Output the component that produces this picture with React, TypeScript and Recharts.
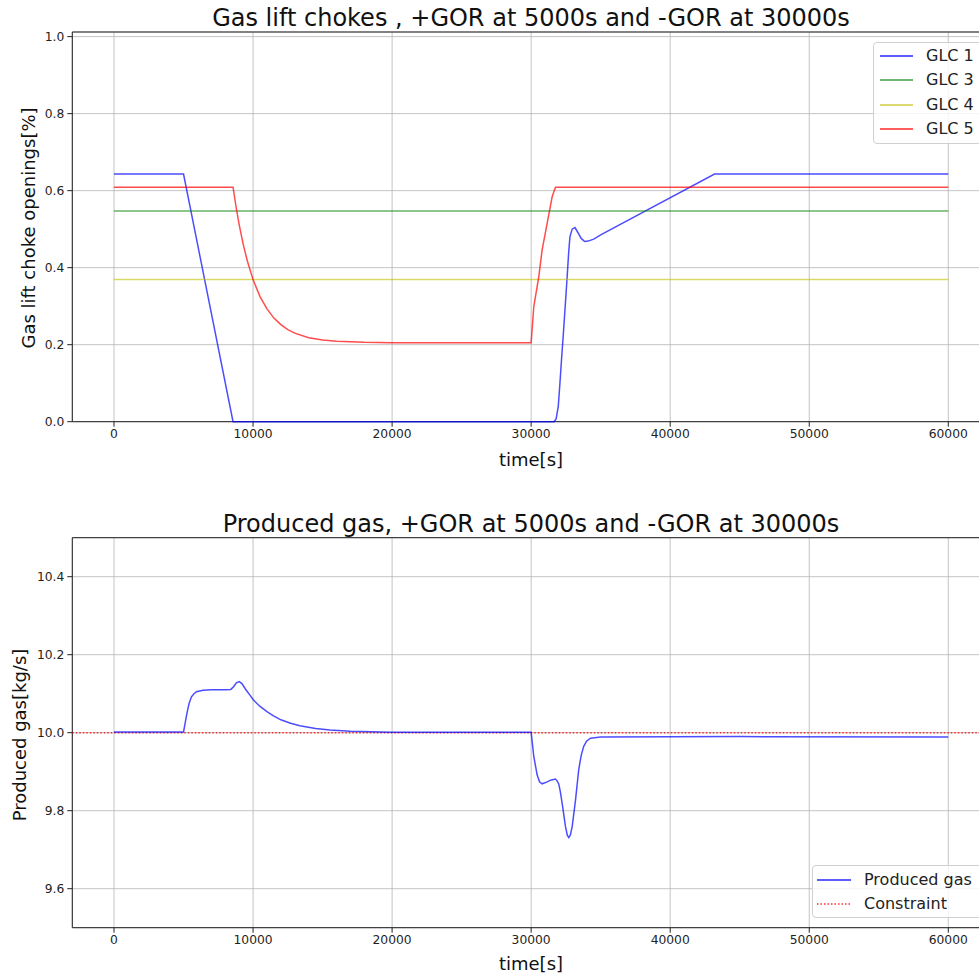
import React from 'react';
import { LineChart, Line, XAxis, YAxis, CartesianGrid, ReferenceLine, ReferenceArea, Legend } from 'recharts';

const FONT = '"DejaVu Sans", Verdana, sans-serif';

// shared x ticks (time in seconds)
const xTicks = [0, 10000, 20000, 30000, 40000, 50000, 60000];
const topYTicks = [0, 0.2, 0.4, 0.6, 0.8, 1.0];
const bottomYTicks = [9.6, 9.8, 10.0, 10.2, 10.4];

const topTitle = 'Gas lift chokes , +GOR at 5000s and -GOR at 30000s';
const bottomTitle = 'Produced gas, +GOR at 5000s and -GOR at 30000s';
const topSeriesNames = ['GLC 1', 'GLC 3', 'GLC 4', 'GLC 5'];
const bottomSeriesNames = ['Produced gas', 'Constraint'];

// GLC 1
const glc1Time = [0, 5000, 8560, 31650, 31800, 31950, 32070, 32200, 32300, 32450, 32590, 32700, 32790, 32950, 33150, 33350, 33600, 33850, 34100, 34500, 35000, 43190, 60000];
const glc1Value = [0.643, 0.643, 0, 0, 0.008, 0.04, 0.1, 0.17, 0.22, 0.3, 0.377, 0.44, 0.48, 0.5, 0.504, 0.492, 0.476, 0.468, 0.469, 0.474, 0.485, 0.643, 0.643];

// GLC 3
const glc3Time = [0, 60000];
const glc3Value = [0.547, 0.547];

// GLC 4
const glc4Time = [0, 60000];
const glc4Value = [0.369, 0.369];

// GLC 5
const glc5Time = [0, 8560, 8800, 9000, 9300, 9600, 10000, 10500, 11000, 11500, 12000, 12500, 13000, 14000, 15000, 16000, 18000, 20000, 30000, 30190, 30550, 30790, 31150, 31510, 31750, 60000];
const glc5Value = [0.609, 0.609, 0.553, 0.512, 0.459, 0.416, 0.369, 0.325, 0.293, 0.269, 0.252, 0.239, 0.23, 0.218, 0.212, 0.209, 0.206, 0.205, 0.205, 0.299, 0.377, 0.446, 0.515, 0.584, 0.609, 0.609];

// Produced gas
const gasTime = [0, 5000, 5250, 5400, 5570, 5750, 5930, 6400, 7000, 8000, 8400, 8600, 8800, 9000, 9200, 9450, 9760, 10000, 10480, 11000, 11440, 12000, 12640, 13360, 14500, 15520, 17000, 20000, 30000, 30190, 30430, 30600, 30790, 31150, 31450, 31750, 31880, 31990, 32100, 32230, 32470, 32600, 32705, 32820, 32950, 33190, 33420, 33600, 33780, 34000, 34270, 34990, 45000, 60000];
const gasValue = [10.002, 10.002, 10.051, 10.075, 10.092, 10.1, 10.105, 10.109, 10.11, 10.11, 10.111, 10.118, 10.128, 10.131, 10.126, 10.112, 10.097, 10.085, 10.068, 10.054, 10.044, 10.033, 10.025, 10.018, 10.011, 10.007, 10.004, 10.001, 10.001, 9.939, 9.892, 9.874, 9.869, 9.874, 9.879, 9.881, 9.876, 9.868, 9.848, 9.819, 9.759, 9.737, 9.731, 9.738, 9.759, 9.827, 9.905, 9.942, 9.965, 9.979, 9.986, 9.989, 9.99, 9.989];

const constraintValue = 10.0;

const toPoints = (ts: number[], vs: number[]) => ts.map((t, i) => ({ t, v: vs[i] }));

const glc1Data = toPoints(glc1Time, glc1Value);
const glc3Data = toPoints(glc3Time, glc3Value);
const glc4Data = toPoints(glc4Time, glc4Value);
const glc5Data = toPoints(glc5Time, glc5Value);
const gasData = toPoints(gasTime, gasValue);

const topColors = [
  { stroke: '#0000ff', opacity: 0.7 },
  { stroke: '#008000', opacity: 0.6 },
  { stroke: '#bfbf00', opacity: 0.6 },
  { stroke: '#ff0000', opacity: 0.7 },
];

const tickStyle = { fill: '#222', fontSize: 12.3, fontFamily: FONT };
const AXIS = '#222';

const legendBox: React.CSSProperties = {
  border: '1px solid #d0d0d0',
  borderRadius: 4,
  background: 'rgba(255,255,255,0.8)',
  fontFamily: FONT,
  fontSize: 16,
  color: '#222',
  boxSizing: 'border-box',
};

const TopLegend = () => (
  <div style={{ ...legendBox, width: 120, height: 102, paddingTop: 1 }}>
    {topSeriesNames.map((n, i) => (
      <div key={n} style={{ height: 24.4, display: 'flex', alignItems: 'center' }}>
        <svg width={46} height={6} style={{ marginLeft: 6, flex: 'none' }}>
          <line x1={0} x2={33} y1={3} y2={3} stroke={topColors[i].stroke} strokeOpacity={topColors[i].opacity + 0.15} strokeWidth={1.5} />
        </svg>
        <span style={{ lineHeight: '16px', whiteSpace: 'nowrap' }}>{n}</span>
      </div>
    ))}
  </div>
);

const BottomLegend = () => (
  <div style={{ ...legendBox, width: 180, height: 53, paddingTop: 2 }}>
    {bottomSeriesNames.map((n, i) => (
      <div key={n} style={{ height: 24, display: 'flex', alignItems: 'center' }}>
        <svg width={47} height={6} style={{ marginLeft: 4, flex: 'none' }}>
          {i === 0 ? (
            <line x1={0} x2={34} y1={3} y2={3} stroke="#0000ff" strokeOpacity={0.85} strokeWidth={1.5} />
          ) : (
            <line x1={0} x2={34} y1={3} y2={3} stroke="#ff0000" strokeOpacity={0.8} strokeWidth={1.5} strokeDasharray="1.5 2" />
          )}
        </svg>
        <span style={{ lineHeight: '16px', whiteSpace: 'nowrap' }}>{n}</span>
      </div>
    ))}
  </div>
);

const titleStyle = (top: number): React.CSSProperties => ({
  position: 'absolute',
  left: 0,
  width: 1062,
  top,
  textAlign: 'center',
  fontSize: 24,
  lineHeight: '24px',
  fontFamily: FONT,
  color: '#111',
  whiteSpace: 'nowrap',
});

export default function App() {
  return (
    <div style={{ position: 'absolute', left: 0, top: 0, width: 979, height: 974, overflow: 'hidden', background: '#fff', fontFamily: FONT }}>
      <div style={{ position: 'absolute', left: 0, top: 0 }}>
        <LineChart width={1000} height={487} margin={{ top: 32, right: 10, bottom: 25.3, left: 12.3 }}>
          <CartesianGrid stroke="#b0b0b0" strokeOpacity={0.75} strokeWidth={1} />
          <ReferenceArea x1={-3000} x2={63000} y1={0} y2={1.012} fill="none" stroke={AXIS} strokeWidth={1} ifOverflow="visible" />
          <XAxis
            dataKey="t"
            type="number"
            domain={[-3000, 63000]}
            ticks={xTicks}
            allowDataOverflow
            height={40}
            axisLine={false}
            tickSize={5}
            tickMargin={3}
            tick={tickStyle}
            tickLine={{ stroke: AXIS }}
            tickFormatter={(v: number) => String(v)}
            label={{
              content: () => (
                <text x={531} y={465.5} textAnchor="middle" fontSize={18} fontFamily={FONT} fill="#111">time[s]</text>
              ),
            }}
          />
          <YAxis
            type="number"
            domain={[0, 1.012]}
            ticks={topYTicks}
            width={60}
            axisLine={false}
            tickSize={5}
            tickMargin={3}
            tick={tickStyle}
            tickLine={{ stroke: AXIS }}
            tickFormatter={(v: number) => v.toFixed(1)}
            label={{
              content: () => (
                <text x={34.5} y={228} transform="rotate(-90 34.5 228)" textAnchor="middle" fontSize={18} fontFamily={FONT} fill="#111">Gas lift choke openings[%]</text>
              ),
            }}
          />
          <Line data={glc1Data} dataKey="v" name={topSeriesNames[0]} type="linear" stroke={topColors[0].stroke} strokeOpacity={topColors[0].opacity} strokeWidth={1.5} dot={false} activeDot={false} isAnimationActive={false} />
          <Line data={glc3Data} dataKey="v" name={topSeriesNames[1]} type="linear" stroke={topColors[1].stroke} strokeOpacity={topColors[1].opacity} strokeWidth={1.5} dot={false} activeDot={false} isAnimationActive={false} />
          <Line data={glc4Data} dataKey="v" name={topSeriesNames[2]} type="linear" stroke={topColors[2].stroke} strokeOpacity={topColors[2].opacity} strokeWidth={1.5} dot={false} activeDot={false} isAnimationActive={false} />
          <Line data={glc5Data} dataKey="v" name={topSeriesNames[3]} type="linear" stroke={topColors[3].stroke} strokeOpacity={topColors[3].opacity} strokeWidth={1.5} dot={false} activeDot={false} isAnimationActive={false} />
          <Legend layout="vertical" align="center" verticalAlign="middle" wrapperStyle={{ left: 873, top: 41.7, width: 'auto' }} content={() => <TopLegend />} />
        </LineChart>
      </div>
      <div style={{ position: 'absolute', left: 0, top: 487 }}>
        <LineChart width={1000} height={487} margin={{ top: 50.7, right: 10, bottom: 16.3, left: 12.3 }}>
          <CartesianGrid stroke="#b0b0b0" strokeOpacity={0.75} strokeWidth={1} />
          <ReferenceArea x1={-3000} x2={63000} y1={9.5} y2={10.5} fill="none" stroke={AXIS} strokeWidth={1} ifOverflow="visible" />
          <XAxis
            dataKey="t"
            type="number"
            domain={[-3000, 63000]}
            ticks={xTicks}
            allowDataOverflow
            height={30}
            axisLine={false}
            tickSize={5}
            tickMargin={3}
            tick={tickStyle}
            tickLine={{ stroke: AXIS }}
            tickFormatter={(v: number) => String(v)}
            label={{
              content: () => (
                <text x={531} y={482.5} textAnchor="middle" fontSize={18} fontFamily={FONT} fill="#111">time[s]</text>
              ),
            }}
          />
          <YAxis
            type="number"
            domain={[9.5, 10.5]}
            ticks={bottomYTicks}
            width={60}
            axisLine={false}
            tickSize={5}
            tickMargin={3}
            tick={tickStyle}
            tickLine={{ stroke: AXIS }}
            tickFormatter={(v: number) => v.toFixed(1)}
            label={{
              content: () => (
                <text x={26} y={248} transform="rotate(-90 26 248)" textAnchor="middle" fontSize={18} fontFamily={FONT} fill="#111">Produced gas[kg/s]</text>
              ),
            }}
          />
          <ReferenceLine y={constraintValue} stroke="#ff0000" strokeOpacity={0.8} strokeWidth={1.5} strokeDasharray="1.5 2" />
          <Line data={gasData} dataKey="v" name={bottomSeriesNames[0]} type="linear" stroke="#0000ff" strokeOpacity={0.7} strokeWidth={1.5} dot={false} activeDot={false} isAnimationActive={false} />
          <Legend layout="vertical" align="center" verticalAlign="middle" wrapperStyle={{ left: 812, top: 378, width: 'auto' }} content={() => <BottomLegend />} />
        </LineChart>
      </div>
      <div style={titleStyle(5.7)}>{topTitle}</div>
      <div style={titleStyle(511.7)}>{bottomTitle}</div>
    </div>
  );
}
